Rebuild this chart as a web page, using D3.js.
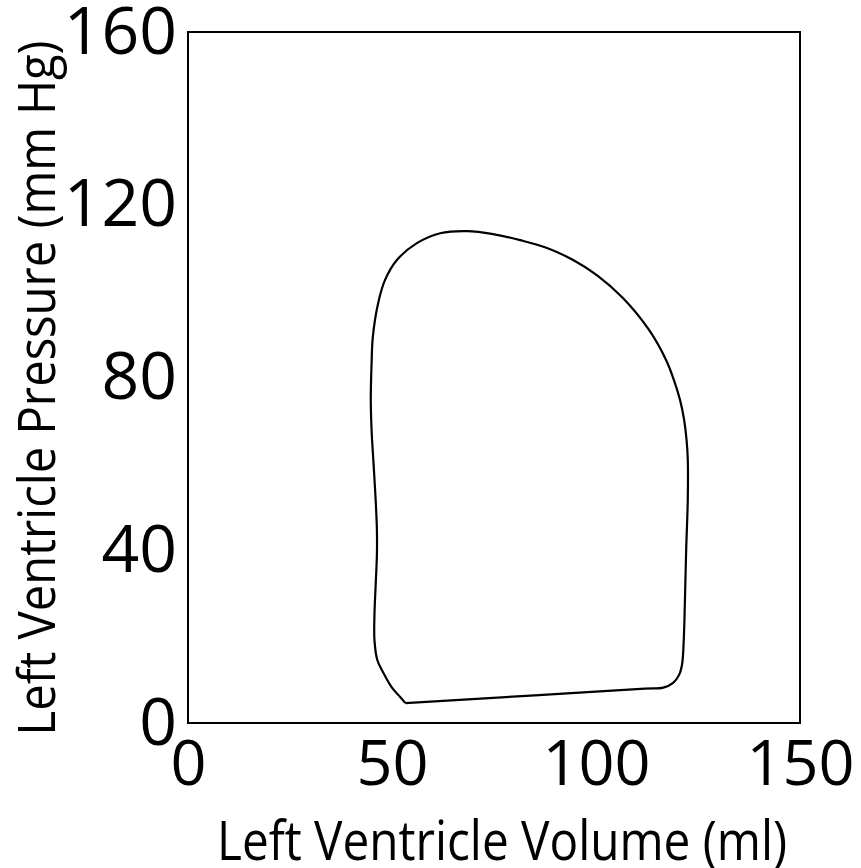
<!DOCTYPE html>
<html>
<head>
<meta charset="utf-8">
<script src="https://cdn.jsdelivr.net/npm/d3@7"></script>
<style>
  body { margin: 0; background: #fff; }
  text { font-family: "Open Sans", sans-serif; fill: #000; }
</style>
</head>
<body>
<div id="chart"></div>
<script>
// Pressure-volume loop (ml, mm Hg)
const volume = [53.3, 85, 112, 116.5, 118.9, 120.4, 121.1, 121.5, 121.8, 122.1, 122.5, 122.5, 122.2, 121.6, 120.6,
    119.1, 117.2, 113.0, 106.6, 100.2, 94.4, 88.0, 81.4, 74.8, 68.4, 61.8, 56.1, 51.2, 48.3, 46.6, 45.3, 45.0,
    44.8, 45.0, 45.5, 46.0, 46.3, 46.3, 46.0, 45.7, 45.7, 46.4, 47.9, 49.9, 52.0, 53.3];
const pressure = [4.6, 6.4, 7.95, 8.2, 9.3, 11.2, 13.6, 19, 28.5, 40, 52, 60.9, 65.5, 70.2, 74.8,
    79.4, 84.0, 91.0, 98.4, 103.7, 107.2, 110.0, 111.8, 113.2, 113.9, 113.4, 111.1, 107.2, 102.6, 97.2, 89.4, 83.4,
    74.8, 67.8, 59.7, 51.6, 44.7, 38.9, 32.0, 25.0, 19.2, 14.6, 11.6, 8.3, 6.0, 4.6];

const xTicks = [0, 50, 100, 150];
const yTicks = [0, 40, 80, 120, 160];

const W = 861, H = 868;
const margin = { top: 32, right: 61, bottom: 145, left: 188 };
const width = W - margin.left - margin.right;
const height = H - margin.top - margin.bottom;

const svg = d3.select("#chart")
    .append("svg")
    .attr("width", W)
    .attr("height", H);

const g = svg.append("g")
    .attr("transform", `translate(${margin.left},${margin.top})`);

const x = d3.scaleLinear().domain([0, 150]).range([0, width]);
const y = d3.scaleLinear().domain([0, 160]).range([height, 0]);

// x axis, no tick marks
const xAxis = g.append("g")
    .attr("transform", `translate(0,${height})`)
    .call(d3.axisBottom(x).tickValues(xTicks).tickSize(0).tickPadding(17));
xAxis.select(".domain").remove();
xAxis.selectAll("text")
    .style("font-family", "'Open Sans', sans-serif")
    .style("font-size", "63px");

const yAxis = g.append("g")
    .call(d3.axisLeft(y).tickValues(yTicks).tickSize(0).tickPadding(11));
yAxis.select(".domain").remove();
yAxis.selectAll("text")
    .style("font-family", "'Open Sans', sans-serif")
    .style("font-size", "66px");

// frame
g.append("rect")
    .attr("width", width)
    .attr("height", height)
    .attr("fill", "none")
    .attr("stroke", "#000")
    .attr("stroke-width", 2);

// the loop
const points = volume.map((v, i) => [v, pressure[i]]);
const line = d3.line()
    .x(d => x(d[0]))
    .y(d => y(d[1]))
    .curve(d3.curveCatmullRom.alpha(0.5));

g.append("path")
    .datum(points)
    .attr("d", line)
    .attr("fill", "none")
    .attr("stroke", "#000")
    .attr("stroke-width", 2.2);

// axis titles
svg.append("text")
    .attr("x", 502)
    .attr("y", 860)
    .attr("text-anchor", "middle")
    .attr("textLength", 570)
    .attr("lengthAdjust", "spacingAndGlyphs")
    .style("font-size", "55px")
    .text("Left Ventricle Volume (ml)");

svg.append("text")
    .attr("transform", "translate(55,388) rotate(-90)")
    .attr("text-anchor", "middle")
    .attr("textLength", 695)
    .attr("lengthAdjust", "spacingAndGlyphs")
    .style("font-size", "51px")
    .text("Left Ventricle Pressure (mm Hg)");
</script>
</body>
</html>
